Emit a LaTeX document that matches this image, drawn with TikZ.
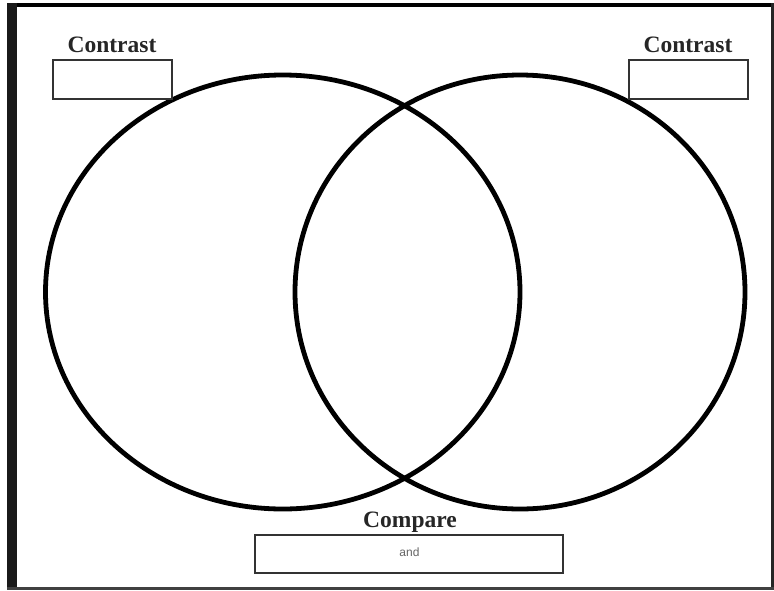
\documentclass[tikz,border=0pt]{standalone}
\usepackage{fontspec}
\setmainfont{Liberation Serif}
\newfontfamily\labelsans{Liberation Sans}
\begin{document}
\begin{tikzpicture}[x=1pt,y=-1pt,
  ring/.style={draw=black,line width=4.8pt},
  answerbox/.style={draw=black!80,line width=2pt,fill=white},
  heading/.style={font=\bfseries\fontsize{23.5}{26}\selectfont,text=black!85,inner sep=0pt,anchor=base},
  smalltext/.style={font=\labelsans\fontsize{12}{14}\selectfont,text=black!60,inner sep=0pt}]
\useasboundingbox (0,0) rectangle (774,590);
\fill[white] (0,0) rectangle (774,590);
% page frame
\fill[black] (7,3) rectangle (774,7);
\fill[black!90] (7,3) rectangle (17,590);
\fill[black!85] (771,3) rectangle (774,590);
\fill[black!75] (7,587) rectangle (774,590);
% circles
\draw[ring] (282.75,292) ellipse [x radius=237.25, y radius=217];
\draw[ring] (520,292) ellipse [x radius=225, y radius=217];
% boxes
\node[answerbox,minimum width=119pt,minimum height=39pt,inner sep=0pt] (lbox) at (112.5,79.5) {};
\node[answerbox,minimum width=119pt,minimum height=39pt,inner sep=0pt] (rbox) at (688.5,79.5) {};
\node[answerbox,minimum width=308pt,minimum height=38pt,inner sep=0pt] (cbox) at (409,554) {};
% labels
\node[heading] (lhead) at (112,52) {Contrast};
\node[heading] (rhead) at (688,52) {Contrast};
\node[heading] (chead) at (410,527) {Compare};
\node[smalltext,anchor=base] (andtxt) at (409.5,556) {and};
\end{tikzpicture}
\end{document}
